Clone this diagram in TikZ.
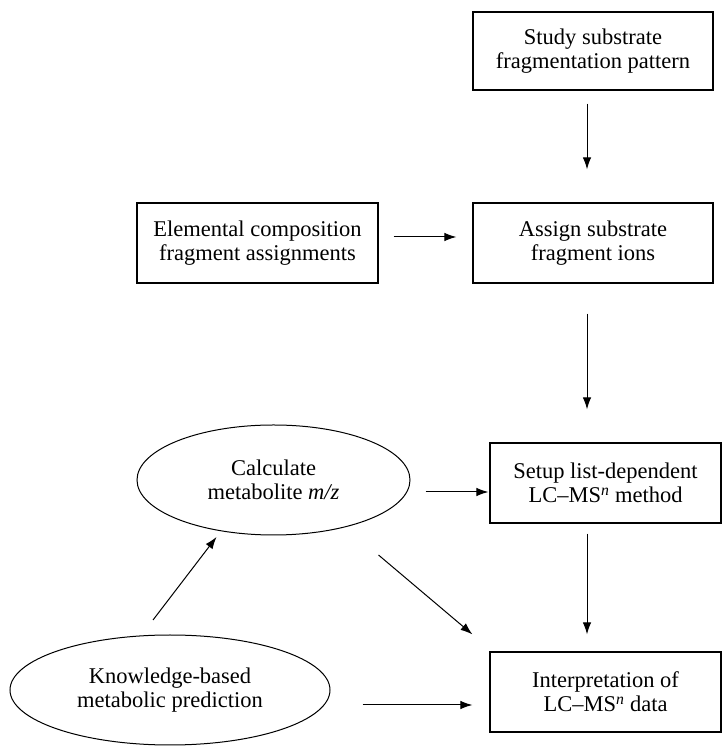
\documentclass[tikz,border=0pt]{standalone}
\usepackage{amsmath}
\usepackage{fontspec}
\setmainfont{Liberation Serif}
\usepackage{tikz}
\usetikzlibrary{calc,shapes.geometric,arrows.meta}

\begin{document}
\begin{tikzpicture}[x=1pt,y=1pt,line width=1pt,
    >={Latex[length=12pt,width=8.5pt]},
    box/.style={rectangle, draw, line width=1.25pt, minimum width=240pt,
      minimum height=80pt, inner sep=0pt, align=center,
      font=\fontsize{22.5}{24}\selectfont},
    oval/.style={ellipse, draw, minimum height=110pt, inner sep=0pt,
      align=center, font=\fontsize{22.5}{24}\selectfont}]
  \useasboundingbox (0,0) rectangle (722,746);
  \node[box,minimum height=78pt] (study) at (593,695) {Study substrate\\fragmentation pattern};
  \node[box,minimum width=241pt] (elem) at (257.5,503) {Elemental composition\\fragment assignments};
  \node[box] (assign) at (593,503) {Assign substrate\\fragment ions};
  \node[oval,minimum width=273pt] (calc) at (273.5,266) {Calculate\\metabolite \textit{m/z}};
  \node[box,minimum width=231pt] (setup) at (605.5,263) {Setup list-dependent\\LC--MS\textsuperscript{\textit{n}} method};
  \node[oval,minimum width=320pt] (know) at (170,56) {Knowledge-based\\metabolic prediction};
  \node[box,minimum width=231pt] (interp) at (605.5,54) {Interpretation of\\LC--MS\textsuperscript{\textit{n}} data};
  % vertical arrows run a little left of the box centres
  \coordinate (a1) at ([xshift=-6pt]study.south);
  \coordinate (a2) at ([xshift=-6pt]assign.south);
  \coordinate (a3) at ([xshift=-18.5pt]setup.south);
  \draw[->,shorten <=13pt,shorten >=33pt] (a1) -- (a1 |- assign.north);
  \draw[->,shorten <=15pt,shorten >=16pt] ([yshift=6pt]elem.east) -- ([yshift=6pt]assign.west);
  \draw[->,shorten <=30pt,shorten >=33pt] (a2) -- (a2 |- setup.north);
  \draw[->,shorten <=15pt,shorten >=1pt] ([yshift=-12pt]calc.east) -- ([yshift=-9pt]setup.west);
  \draw[->,shorten <=10pt,shorten >=17pt] (a3) -- (a3 |- interp.north);
  \draw[->] ([xshift=105pt,yshift=-75pt]calc.center) -- ([xshift=-17pt,yshift=17pt]interp.north west);
  \draw[->] ([xshift=-17pt,yshift=70pt]know.center) -- ([xshift=-57pt,yshift=-57pt]calc.center);
  \draw[->,shorten <=32pt,shorten >=17pt] ([yshift=-15pt]know.east) -- ([yshift=-13pt]interp.west);
\end{tikzpicture}
\end{document}
